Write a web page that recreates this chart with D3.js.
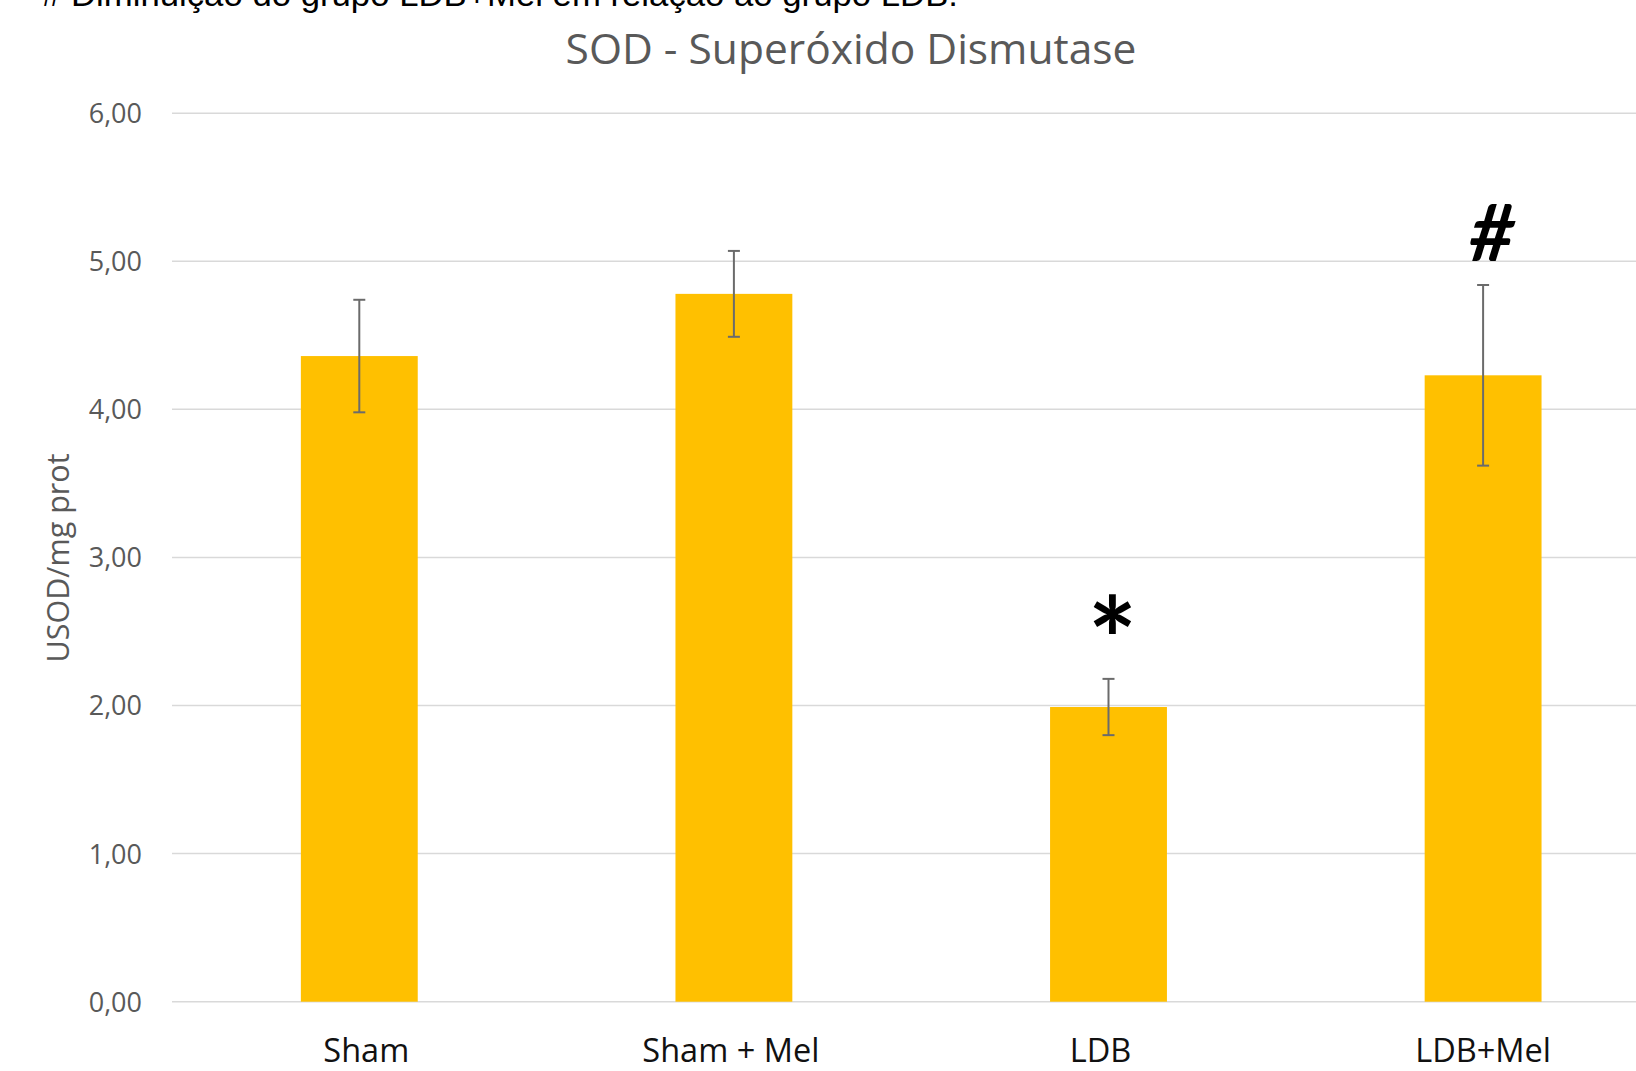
<!DOCTYPE html>
<html>
<head>
<meta charset="utf-8">
<script src="https://cdn.jsdelivr.net/npm/d3@7/dist/d3.min.js"></script>
<style>
  html, body { margin: 0; padding: 0; background: #fff; overflow: hidden; }
  svg { display: block; }
</style>
</head>
<body>
<svg id="chart" width="1636" height="1071"></svg>
<script>
// SOD activity per group (USOD/mg prot), mean ± error
const categories = ["Sham", "Sham + Mel", "LDB", "LDB+Mel"];
const means = [4.36, 4.78, 1.99, 4.23];
const errors = [0.38, 0.29, 0.19, 0.61];
const marks = ["", "", "*", "#"];
const yTicks = [0, 1, 2, 3, 4, 5, 6];
const yTickLabels = ["0,00", "1,00", "2,00", "3,00", "4,00", "5,00", "6,00"];

(function () {
  const svg = d3.select("#chart");
  const W = 1636;
  const plotLeft = 172, step = 374.6;
  const plotTop = 113.2, plotBottom = 1001.7;

  const x = d3.scaleBand()
    .domain(categories)
    .range([plotLeft, plotLeft + step * categories.length])
    .paddingInner(0.688)
    .paddingOuter(0.344);

  const y = d3.scaleLinear().domain([0, 6]).range([plotBottom, plotTop]);

  const grey = "#595959";

  // gridlines
  svg.append("g")
    .selectAll("line")
    .data(yTicks)
    .join("line")
    .attr("x1", plotLeft).attr("x2", W)
    .attr("y1", d => y(d)).attr("y2", d => y(d))
    .attr("stroke", "#d9d9d9").attr("stroke-width", 1.5);

  // y axis tick labels
  const yAxis = d3.axisLeft(y)
    .tickValues(yTicks)
    .tickFormat((d, i) => yTickLabels[i])
    .tickSize(0).tickPadding(0);
  const yg = svg.append("g").attr("transform", "translate(142,0)").call(yAxis);
  yg.select(".domain").remove();
  yg.selectAll("text")
    .attr("fill", grey)
    .attr("font-family", "'Open Sans', sans-serif")
    .attr("font-size", 27)
    .attr("dy", "0.35em");

  // y axis title
  svg.append("text")
    .attr("transform", "translate(69,558) rotate(-90)")
    .attr("text-anchor", "middle")
    .attr("fill", grey)
    .attr("font-family", "'Open Sans', sans-serif")
    .attr("font-size", 30.5)
    .text("USOD/mg prot");

  // bars
  svg.append("g")
    .selectAll("rect")
    .data(categories)
    .join("rect")
    .attr("x", d => x(d))
    .attr("width", x.bandwidth())
    .attr("y", (d, i) => y(means[i]))
    .attr("height", (d, i) => y(0) - y(means[i]))
    .attr("fill", "#FFC000");

  // error bars
  const eg = svg.append("g").attr("stroke", "#6b6b6b").attr("stroke-width", 2);
  categories.forEach((c, i) => {
    const cx = x(c) + x.bandwidth() / 2;
    const hi = y(means[i] + errors[i]), lo = y(means[i] - errors[i]);
    eg.append("line").attr("x1", cx).attr("x2", cx).attr("y1", hi).attr("y2", lo);
    eg.append("line").attr("x1", cx - 6).attr("x2", cx + 6).attr("y1", hi).attr("y2", hi);
    eg.append("line").attr("x1", cx - 6).attr("x2", cx + 6).attr("y1", lo).attr("y2", lo);
  });

  // significance marks above the error bars
  categories.forEach((c, i) => {
    if (!marks[i]) return;
    const cx = x(c) + x.bandwidth() / 2;
    const errTop = y(means[i] + errors[i]);
    const t = svg.append("text")
      .attr("text-anchor", "middle")
      .attr("fill", "#000")
      .attr("font-family", "Lato, sans-serif")
      .attr("font-weight", "bold")
      .text(marks[i]);
    if (marks[i] === "*") {
      t.attr("x", cx + 4).attr("y", errTop + 4).attr("font-size", 116);
    } else {
      t.attr("x", cx + 9).attr("y", errTop - 24).attr("font-size", 78).attr("font-style", "italic");
    }
  });

  // x labels
  const labelNudge = { "Sham": 7, "Sham + Mel": -3, "LDB": -8, "LDB+Mel": 0 };
  svg.append("g")
    .selectAll("text")
    .data(categories)
    .join("text")
    .attr("x", d => x(d) + x.bandwidth() / 2 + labelNudge[d])
    .attr("y", 1062)
    .attr("text-anchor", "middle")
    .attr("fill", "#111")
    .attr("font-family", "'Open Sans', sans-serif")
    .attr("font-size", 32.5)
    .text(d => d);

  // chart title
  svg.append("text")
    .attr("x", 851).attr("y", 64)
    .attr("text-anchor", "middle")
    .attr("fill", grey)
    .attr("font-family", "'Open Sans', sans-serif")
    .attr("font-size", 42.5)
    .text("SOD - Superóxido Dismutase");

  // caption line at the top edge
  svg.append("text")
    .attr("x", 42).attr("y", 6)
    .attr("fill", "#000")
    .attr("font-family", "'Liberation Sans', Arial, sans-serif")
    .attr("font-size", 33)
    .attr("textLength", 916)
    .attr("lengthAdjust", "spacingAndGlyphs")
    .text("# Diminuição do grupo LDB+Mel em relação ao grupo LDB.");
})();
</script>
</body>
</html>
